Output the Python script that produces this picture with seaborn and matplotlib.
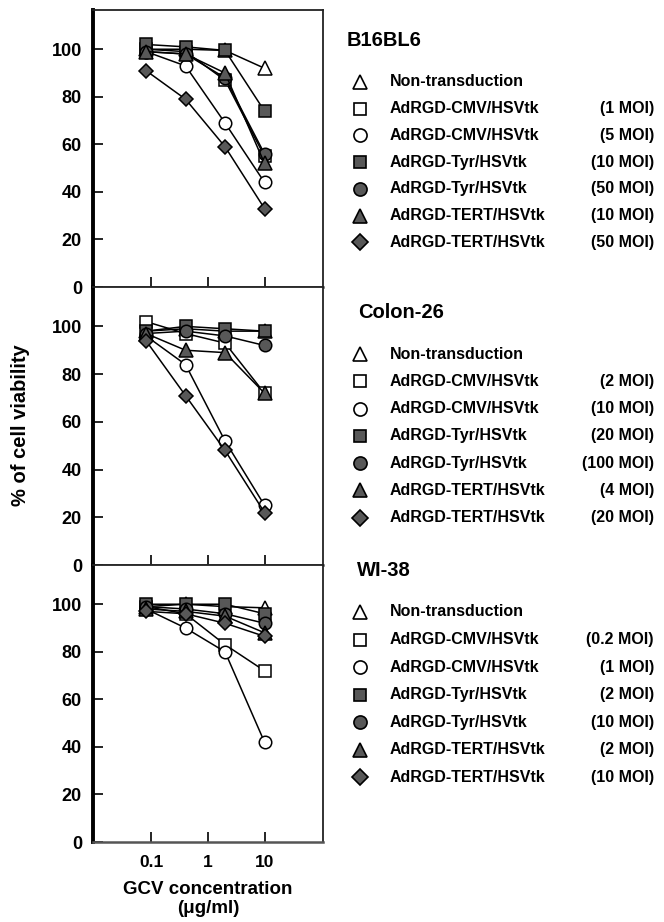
import numpy as np
import pandas as pd
import matplotlib.pyplot as plt
import seaborn as sns
from matplotlib.lines import Line2D

# data
conc = [0.08, 0.4, 2, 10]
names = ["Non-transduction", "AdRGD-CMV/HSVtk", "AdRGD-CMV/HSVtk", "AdRGD-Tyr/HSVtk",
         "AdRGD-Tyr/HSVtk", "AdRGD-TERT/HSVtk", "AdRGD-TERT/HSVtk"]

b16_moi = ["", "(1 MOI)", "(5 MOI)", "(10 MOI)", "(50 MOI)", "(10 MOI)", "(50 MOI)"]
colon_moi = ["", "(2 MOI)", "(10 MOI)", "(20 MOI)", "(100 MOI)", "(4 MOI)", "(20 MOI)"]
wi38_moi = ["", "(0.2 MOI)", "(1 MOI)", "(2 MOI)", "(10 MOI)", "(2 MOI)", "(10 MOI)"]

b16_vals = [
    [100, 100, 99.5, 92],
    [100, 99, 87, 55],
    [99, 93, 69, 44],
    [102, 101, 99.5, 74],
    [99, 98, 88, 56],
    [99, 98, 90, 52],
    [91, 79, 59, 33],
]
colon_vals = [
    [98, 99, 98, 98],
    [102, 97, 93, 72],
    [96, 84, 52, 25],
    [98, 100, 99, 98],
    [97, 98, 96, 92],
    [97, 90, 89, 72],
    [94, 71, 48, 22],
]
wi38_vals = [
    [99, 100, 99, 98.5],
    [99, 96, 83, 72],
    [98, 90, 80, 42],
    [100, 100, 100, 96],
    [99, 98, 96, 92],
    [98, 97, 95, 88],
    [97, 96, 92, 86.5],
]

panels = ["B16BL6", "Colon-26", "WI-38"]

# styles
markers = ['^', 's', 'o', 's', 'o', '^', 'D']
filled = [False, False, False, True, True, True, True]
msizes = [9.5, 8.5, 9, 8.5, 9, 9.5, 7.5]
fill_col = '#585858'

sns.set_style("ticks")
plt.rcParams['font.family'] = ['Liberation Sans', 'DejaVu Sans']
plt.rcParams['font.weight'] = 'bold'
plt.rcParams['text.color'] = 'black'
plt.rcParams['axes.labelcolor'] = 'black'

W, H = 664, 922
fig = plt.figure(figsize=(W / 100, H / 100), dpi=100)

def fx(x):
    return x / W

def fy(y):
    return 1 - y / H

# panel boxes in pixels (top, bottom)
boxes = [(10, 287), (287, 565), (565, 842)]
left, right = 93, 323

# legend rows in pixels
title_pos = [(347, 40), (358, 313), (357, 570)]
row_start = [82, 354, 612]
row_step = [26.7, 27.3, 27.5]

all_vals = [b16_vals, colon_vals, wi38_vals]
all_moi = [b16_moi, colon_moi, wi38_moi]

for p in range(3):
    top, bot = boxes[p]
    ax = fig.add_axes([fx(left), fy(bot), fx(right) - fx(left), (bot - top) / H])

    rows = []
    for i, vals in enumerate(all_vals[p]):
        for c, v in zip(conc, vals):
            rows.append({'series': i, 'conc': c, 'viability': v})
    df = pd.DataFrame(rows)

    for i in range(7):
        sub = df[df['series'] == i]
        sns.lineplot(data=sub, x='conc', y='viability', ax=ax, color='black',
                     linewidth=1.1, marker=markers[i], markersize=msizes[i],
                     markerfacecolor=fill_col if filled[i] else 'white',
                     markeredgecolor='black', markeredgewidth=1.1,
                     zorder=3 + i, legend=False)

    ax.set_xscale('log')
    ax.set_xlim(10 ** -2.035, 10 ** 2.035)
    ax.set_ylim(0, 116.5)
    ax.set_xticks([0.1, 1, 10])
    ax.xaxis.set_minor_locator(plt.NullLocator())
    ax.set_yticks([0, 20, 40, 60, 80, 100])
    ax.tick_params(direction='in', length=7, width=1.2, colors='black')
    ax.tick_params(axis='y', pad=8, labelsize=13)
    ax.tick_params(axis='x', pad=9, labelsize=12.5)
    if p < 2:
        ax.set_xticklabels([])
    else:
        ax.set_xticklabels(['0.1', '1', '10'])
    ax.set_xlabel('')
    ax.set_ylabel('')
    for s in ['top', 'right']:
        ax.spines[s].set_linewidth(1.3)
        ax.spines[s].set_color('#222222')
    ax.spines['bottom'].set_linewidth(1.8)
    ax.spines['bottom'].set_color('#555555')
    ax.spines['left'].set_linewidth(2.8)
    ax.spines['left'].set_color('black')

    # legend block
    tx, ty = title_pos[p]
    fig.text(fx(tx), fy(ty), panels[p], fontsize=14.5, fontweight='bold',
             ha='left', va='center')
    for i in range(7):
        yy = row_start[p] + i * row_step[p]
        fig.add_artist(Line2D([fx(360)], [fy(yy)], transform=fig.transFigure,
                              marker=markers[i], markersize=msizes[i] * 1.05,
                              markerfacecolor=fill_col if filled[i] else 'white',
                              markeredgecolor='black', markeredgewidth=1.2,
                              linestyle='none'))
        fig.text(fx(390), fy(yy), names[i], fontsize=11.5, fontweight='bold',
                 ha='left', va='center')
        if all_moi[p][i]:
            fig.text(fx(654), fy(yy), all_moi[p][i], fontsize=11.5,
                     fontweight='bold', ha='right', va='center')

    if p == 2:
        ax.set_xlabel('GCV concentration\n(μg/ml)', fontsize=13.5, fontweight='bold',
                      labelpad=8, linespacing=1.2)

fig.text(fx(21), fy(425), '% of cell viability', rotation=90, fontsize=14.5,
         fontweight='bold', ha='center', va='center')

fig.savefig('out.png', dpi=100)
